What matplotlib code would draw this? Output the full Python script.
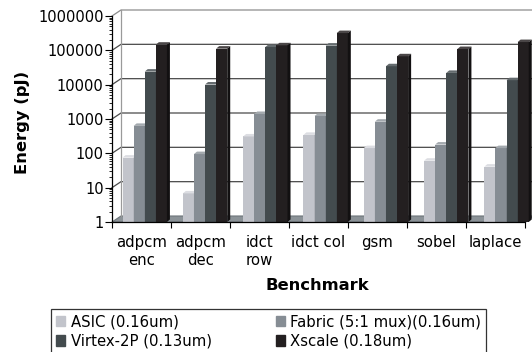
import numpy as np
import matplotlib
matplotlib.use("Agg")
import matplotlib.pyplot as plt
from matplotlib.patches import Polygon, Patch
from matplotlib.lines import Line2D
from matplotlib.ticker import LogLocator, NullFormatter

# data (energy in pJ, log scale)
categories = ["adpcm\nenc", "adpcm\ndec", "idct\nrow", "idct col", "gsm", "sobel", "laplace"]
asic = [75, 6.8, 310, 345, 142, 61, 41]
fabric = [630, 95, 1400, 1220, 835, 180, 142]
virtex = [24000, 10100, 125000, 137000, 34400, 22000, 13500]
xscale = [146000, 112000, 140000, 318000, 67000, 109000, 174000]
series_names = ["ASIC (0.16um)", "Fabric (5:1 mux)(0.16um)", "Virtex-2P (0.13um)", "Xscale (0.18um)"]
decades = [1, 10, 100, 1000, 10000, 100000, 1000000]

# front / top / side colours for the fake 3d columns
styles = [
    ("#c2c4cb", "#dcdde2", "#9fa1a8"),
    ("#868d94", "#a3a9ae", "#676e74"),
    ("#434b4e", "#646b6e", "#323839"),
    ("#231f20", "#4a4647", "#121011"),
]

W, H = 532, 352
fig = plt.figure(figsize=(W / 100, H / 100), dpi=100)


def px_box(left, right, top, bottom):
    return [left / W, 1 - bottom / H, (right - left) / W, (bottom - top) / H]


n = len(categories)
ax_bar = fig.add_axes(px_box(114.7, 114.7 + n * 60.3, 16, 222), zorder=1)
ax = fig.add_axes(px_box(112, 525, 16, 222), zorder=2)
for a in (ax, ax_bar):
    a.set_yscale("log")
    a.set_ylim(1, 1e6)
    a.set_xlim(0, n)
ax_bar.axis("off")
ax.patch.set_visible(False)

to_fig = fig.transFigure.inverted()


def pt(a, x, y, dx=0.0, dy=0.0):
    p = a.transData.transform((x, y))
    return to_fig.transform(p + np.array([dx, dy]))


wall_dx, wall_dy = 9, 6
bar_dx, bar_dy = 3, 2.5

# floor
floor = [pt(ax, 0, 1), pt(ax, n, 1), pt(ax, n, 1, wall_dx, wall_dy), pt(ax, 0, 1, wall_dx, wall_dy)]
ax_bar.add_patch(Polygon(floor, closed=True, transform=fig.transFigure, fc="#8b9297",
                         ec="#6d7479", lw=0.8, zorder=0.5, clip_on=False))

# gridlines on the left wall and back wall
for v in decades[1:]:
    pts = np.array([pt(ax, 0, v), pt(ax, 0, v, wall_dx, wall_dy), pt(ax, n, v, wall_dx, wall_dy)])
    col = "#8c8c8c" if v == decades[-1] else "#4a4a4a"
    ax_bar.add_line(Line2D(pts[:, 0], pts[:, 1], transform=fig.transFigure, color=col,
                           lw=0.9, zorder=0.6, clip_on=False))
edge = np.array([pt(ax, 0, 1, wall_dx, wall_dy), pt(ax, 0, 1e6, wall_dx, wall_dy)])
ax_bar.add_line(Line2D(edge[:, 0], edge[:, 1], transform=fig.transFigure, color="#9a9a9a",
                       lw=0.9, zorder=0.6, clip_on=False))

# columns
x = np.arange(n)
width = 0.184
start = 0.13
for j, vals in enumerate([asic, fabric, virtex, xscale]):
    front, top, side = styles[j]
    vals = np.array(vals, dtype=float)
    bars = ax_bar.bar(x + start + j * width, vals - 1, bottom=1, width=width, align="edge",
                      color=front, lw=0, zorder=3 + j)
    for b in bars:
        x0 = b.get_x()
        x1 = x0 + b.get_width()
        t = b.get_y() + b.get_height()
        top_face = [pt(ax_bar, x0, t), pt(ax_bar, x1, t), pt(ax_bar, x1, t, bar_dx, bar_dy),
                    pt(ax_bar, x0, t, bar_dx, bar_dy)]
        side_face = [pt(ax_bar, x1, 1), pt(ax_bar, x1, t), pt(ax_bar, x1, t, bar_dx, bar_dy),
                     pt(ax_bar, x1, 1, bar_dx, bar_dy)]
        for poly, c in ((top_face, top), (side_face, side)):
            ax_bar.add_patch(Polygon(poly, closed=True, transform=fig.transFigure, fc=c,
                                     lw=0, zorder=3 + j, clip_on=False))

# front axes
for s in ("top", "right"):
    ax.spines[s].set_visible(False)
for s in ("left", "bottom"):
    ax.spines[s].set_color("black")
    ax.spines[s].set_linewidth(0.9)

ax.set_yticks(decades)
ax.set_yticklabels([str(v) for v in decades])
ax.yaxis.set_minor_locator(LogLocator(base=10, subs=np.arange(2, 10), numticks=20))
ax.yaxis.set_minor_formatter(NullFormatter())
ax.tick_params(axis="y", which="major", direction="out", length=5, width=0.8, pad=1, labelsize=10.5)
ax.tick_params(axis="y", which="minor", direction="out", length=2.5, width=0.6)

ax.set_xticks(np.arange(n + 1))
ax.set_xticklabels([])
ax.set_xticks(x + 0.5, minor=True)
ax.set_xticklabels(categories, minor=True)
ax.tick_params(axis="x", which="major", direction="out", length=4, width=0.8)
ax.tick_params(axis="x", which="minor", length=0, pad=9, labelsize=10.7)
for lbl in ax.get_xticklabels(minor=True):
    lbl.set_linespacing(1.3)

fig.text(22.5 / W, 1 - 122.5 / H, "Energy (pJ)", rotation=90, fontweight="bold",
         fontsize=11.8, ha="center", va="center")
fig.text(317 / W, 1 - 285 / H, "Benchmark", fontweight="bold", fontsize=11.8,
         ha="center", va="center")

handles = [Patch(color=styles[j][0]) for j in range(4)]
order = [0, 2, 1, 3]
leg = fig.legend([handles[i] for i in order], [series_names[i] for i in order], ncol=2,
                 loc="upper left", bbox_to_anchor=(51 / W, 0, 435 / W, 1 - 309 / H),
                 mode="expand", borderaxespad=0, frameon=True, fancybox=False,
                 edgecolor="black", fontsize=10.7, handlelength=0.62, handleheight=0.7,
                 handletextpad=0.35, labelspacing=0.3, borderpad=0.35, columnspacing=1)
leg.get_frame().set_linewidth(0.9)

fig.savefig("out.png", dpi=100)
